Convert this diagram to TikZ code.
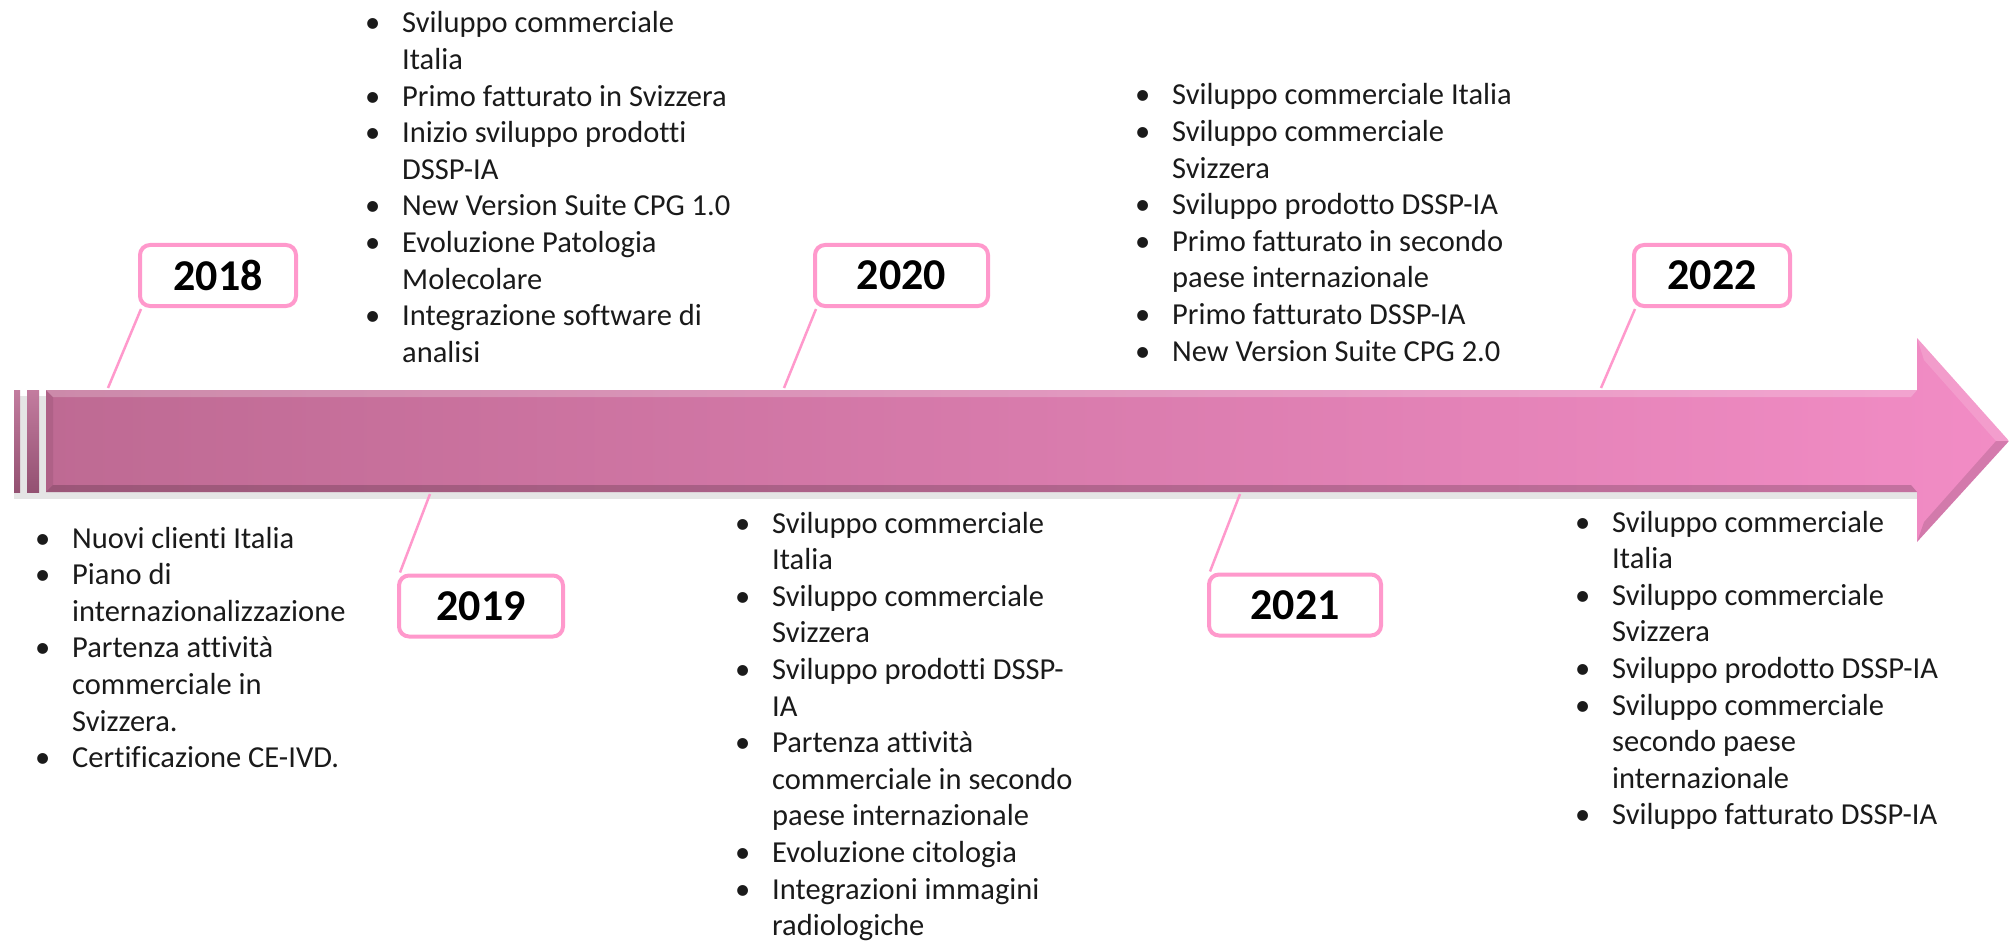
\documentclass[tikz,border=0pt]{standalone}
\usepackage{fontspec}
\setmainfont{Carlito}[Ligatures=CommonOff]
\definecolor{boxpink}{HTML}{FF99CC}
\definecolor{linkpink}{HTML}{FF99CC}
\definecolor{arrL}{HTML}{BE6A93}
\definecolor{arrR}{HTML}{F28CC5}
\definecolor{barC}{HTML}{B8658E}
\definecolor{txt}{HTML}{1A1A1A}
\newcommand{\bl}[1]{\hbox{\makebox[37pt][l]{\textbullet}#1}}
\newcommand{\cl}[1]{\hbox{\hspace*{37pt}#1}}
\tikzset{
  yearbox/.style={draw=boxpink, line width=4pt, rounded corners=10pt, fill=white,
    minimum height=61pt, inner sep=0pt, font=\fontsize{44}{50}\selectfont\bfseries, text=black},
  blk/.style={inner sep=0pt, anchor=base west, text=txt, font=\fontsize{30.5}{36.6}\selectfont},
  link/.style={draw=linkpink, line width=2.5pt}
}
\begin{document}
\begin{tikzpicture}[x=1pt,y=-1pt]
\useasboundingbox (0,0) rectangle (2009,941);
% arrow shadow
\fill[black,opacity=0.10] (14,396) rectangle (1920,499);
% small bars
\shade[top color=barC!85!white, bottom color=barC!80!black] (14,390) rectangle (20,492);
\shade[top color=barC!85!white, bottom color=barC!80!black] (27,390) rectangle (39,492);
% main arrow
\shade[left color=arrL, right color=arrR] (46,390) -- (1917,390) -- (1917,338) -- (2009,441) -- (1917,542) -- (1917,492) -- (46,492) -- cycle;
\fill[white,opacity=0.22] (46,390) -- (1917,390) -- (1911,397) -- (53,397) -- cycle;
\fill[black,opacity=0.18] (46,492) -- (1917,492) -- (1911,485) -- (53,485) -- cycle;
\fill[black,opacity=0.08] (46,390) -- (53,397) -- (53,485) -- (46,492) -- cycle;
\fill[white,opacity=0.15] (1917,338) -- (2009,441) -- (1996,441) -- (1924,360) -- cycle;
\fill[black,opacity=0.12] (1917,542) -- (2009,441) -- (1996,441) -- (1924,522) -- cycle;
% anchor points on the arrow
\coordinate (p18) at (108,388);
\coordinate (p19) at (430,494);
\coordinate (p20) at (784,388);
\coordinate (p21) at (1240,494);
\coordinate (p22) at (1601,388);
% year boxes
\node[yearbox, minimum width=156pt] (y18) at (218,275.5) {2018};
\node[yearbox, minimum width=164pt] (y19) at (481,606) {2019};
\node[yearbox, minimum width=173pt] (y20) at (901.5,275.5) {2020};
\node[yearbox, minimum width=172pt] (y21) at (1295,605) {2021};
\node[yearbox, minimum width=156pt] (y22) at (1712,275.5) {2022};
% connectors
\draw[link] ([xshift=3pt,yshift=-1pt]y18.south west) -- (p18);
\draw[link] ([xshift=3pt,yshift=1pt]y19.north west) -- (p19);
\draw[link] ([xshift=3pt,yshift=-1pt]y20.south west) -- (p20);
\draw[link] ([xshift=3pt,yshift=1pt]y21.north west) -- (p21);
\draw[link] ([xshift=3pt,yshift=-1pt]y22.south west) -- (p22);
% text blocks
\node[blk] (t18) at (35,548) {\vtop{%
\bl{Nuovi clienti Italia}
\bl{Piano di}
\cl{internazionalizzazione}
\bl{Partenza attività}
\cl{commerciale in}
\cl{Svizzera.}
\bl{Certificazione CE-IVD.}}};
\node[blk] (t19) at (365,33) {\vtop{%
\bl{Sviluppo commerciale}
\cl{Italia}
\bl{Primo fatturato in Svizzera}
\bl{Inizio sviluppo prodotti}
\cl{DSSP-IA}
\bl{New Version Suite CPG 1.0}
\bl{Evoluzione Patologia}
\cl{Molecolare}
\bl{Integrazione software di}
\cl{analisi}}};
\node[blk] (t20) at (735,533) {\vtop{%
\bl{Sviluppo commerciale}
\cl{Italia}
\bl{Sviluppo commerciale}
\cl{Svizzera}
\bl{Sviluppo prodotti DSSP-}
\cl{IA}
\bl{Partenza attività}
\cl{commerciale in secondo}
\cl{paese internazionale}
\bl{Evoluzione citologia}
\bl{Integrazioni immagini}
\cl{radiologiche}}};
\node[blk] (t21) at (1135,105) {\vtop{%
\bl{Sviluppo commerciale Italia}
\bl{Sviluppo commerciale}
\cl{Svizzera}
\bl{Sviluppo prodotto DSSP-IA}
\bl{Primo fatturato in secondo}
\cl{paese internazionale}
\bl{Primo fatturato DSSP-IA}
\bl{New Version Suite CPG 2.0}}};
\node[blk] (t22) at (1575,532) {\vtop{%
\bl{Sviluppo commerciale}
\cl{Italia}
\bl{Sviluppo commerciale}
\cl{Svizzera}
\bl{Sviluppo prodotto DSSP-IA}
\bl{Sviluppo commerciale}
\cl{secondo paese}
\cl{internazionale}
\bl{Sviluppo fatturato DSSP-IA}}};
\end{tikzpicture}
\end{document}
